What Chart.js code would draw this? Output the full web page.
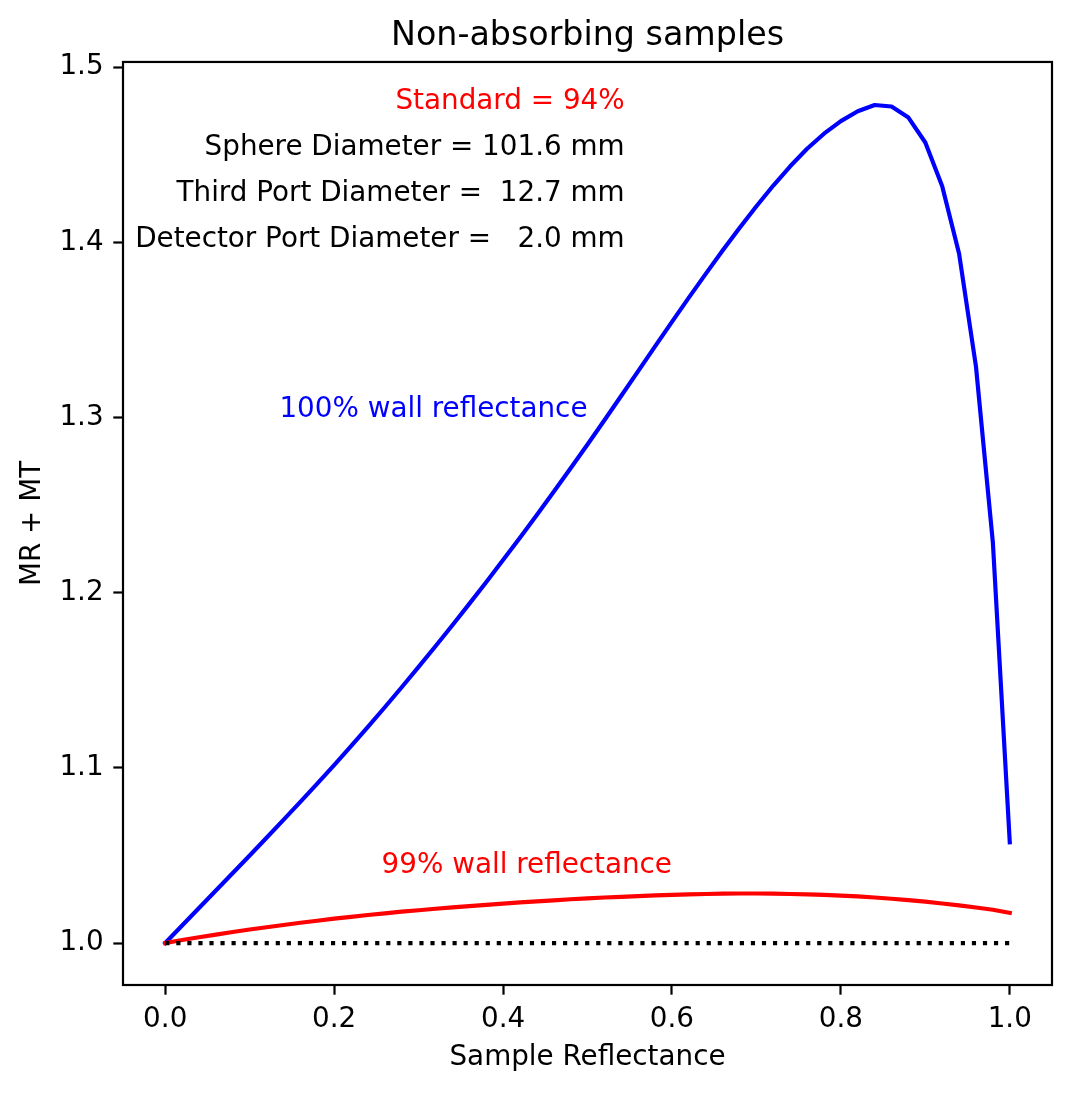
<!DOCTYPE html>
<html>
<head>
<meta charset="utf-8">
<script src="https://cdn.jsdelivr.net/npm/chart.js@4.4.1/dist/chart.umd.min.js"></script>
<style>
  body { margin: 0; background: #fff; }
  canvas { display: block; }
</style>
</head>
<body>
<canvas id="myChart" width="1072" height="1093"></canvas>
<script>
// sample reflectance (x)
const reflectance = [
    0.00, 0.02, 0.04, 0.06, 0.08, 0.10, 0.12, 0.14, 0.16, 0.18,
    0.20, 0.22, 0.24, 0.26, 0.28, 0.30, 0.32, 0.34, 0.36, 0.38,
    0.40, 0.42, 0.44, 0.46, 0.48, 0.50, 0.52, 0.54, 0.56, 0.58,
    0.60, 0.62, 0.64, 0.66, 0.68, 0.70, 0.72, 0.74, 0.76, 0.78,
    0.80, 0.82, 0.84, 0.86, 0.88, 0.90, 0.92, 0.94, 0.96, 0.98, 1.00
];

// MR + MT, 100% wall reflectance
const wall100 = [
    1.0000, 1.0100, 1.0200, 1.0300, 1.0400, 1.0500, 1.0601, 1.0703, 1.0806, 1.0910,
    1.1016, 1.1124, 1.1234, 1.1346, 1.1460, 1.1576, 1.1694, 1.1814, 1.1936, 1.2060,
    1.2186, 1.2314, 1.2444, 1.2576, 1.2710, 1.2846, 1.2984, 1.3124, 1.3265, 1.3406,
    1.3546, 1.3684, 1.3820, 1.3953, 1.4082, 1.4206, 1.4324, 1.4434, 1.4534, 1.4620,
    1.4692, 1.4748, 1.4784, 1.4775, 1.4712, 1.4570, 1.4320, 1.3935, 1.3290, 1.2285, 1.0575
];

// MR + MT, 99% wall reflectance
const wall99 = [
    1.0000, 1.0017, 1.0033, 1.0048, 1.0063, 1.0077, 1.0090, 1.0103, 1.0116, 1.0127,
    1.0139, 1.0149, 1.0160, 1.0169, 1.0179, 1.0187, 1.0196, 1.0204, 1.0211, 1.0218,
    1.0225, 1.0232, 1.0238, 1.0244, 1.0250, 1.0255, 1.0260, 1.0264, 1.0268, 1.0272,
    1.0275, 1.0278, 1.0280, 1.0282, 1.0283, 1.0283, 1.0282, 1.0280, 1.0278, 1.0275,
    1.0271, 1.0266, 1.0260, 1.0253, 1.0245, 1.0236, 1.0226, 1.0215, 1.0203, 1.0190, 1.0172
];

// dotted reference line
const refX = [0.0, 1.0];
const refY = [1.0, 1.0];

// tick labels
const xTicks = [0.0, 0.2, 0.4, 0.6, 0.8, 1.0];
const yTicks = [1.0, 1.1, 1.2, 1.3, 1.4, 1.5];

// text placed in the plot (data coordinates, right aligned, baseline)
const notes = [
    { text: 'Standard = 94%', x: 0.544, y: 1.4759, color: '#ff0000' },
    { text: 'Sphere Diameter = 101.6 mm', x: 0.544, y: 1.4497, color: '#000000' },
    { text: 'Third Port Diameter =  12.7 mm', x: 0.544, y: 1.4234, color: '#000000' },
    { text: 'Detector Port Diameter =   2.0 mm', x: 0.544, y: 1.3972, color: '#000000' },
    { text: '100% wall reflectance', x: 0.5, y: 1.3, color: '#0000ff' },
    { text: '99% wall reflectance', x: 0.6, y: 1.04, color: '#ff0000' }
];

const FONT = '"DejaVu Sans", sans-serif';
const LW = 4.17;     // 1.5pt at 200 dpi
const SPINE = 2.2;

const toPoints = (xs, ys) => xs.map((x, i) => ({ x: x, y: ys[i] }));

// box around the axes and the text labels
const framePlugin = {
    id: 'framePlugin',
    afterDatasetsDraw(chart) {
        const { ctx, chartArea, scales } = chart;
        ctx.save();
        ctx.strokeStyle = '#000';
        ctx.lineWidth = SPINE;
        ctx.strokeRect(chartArea.left, chartArea.top,
            chartArea.right - chartArea.left, chartArea.bottom - chartArea.top);

        ctx.font = '27.8px ' + FONT;
        ctx.textAlign = 'right';
        ctx.textBaseline = 'alphabetic';
        notes.forEach(n => {
            ctx.fillStyle = n.color;
            ctx.fillText(n.text, scales.x.getPixelForValue(n.x), scales.y.getPixelForValue(n.y));
        });
        ctx.restore();
    }
};

const data = {
    datasets: [
        {
            label: 'reference',
            data: toPoints(refX, refY),
            borderColor: '#000000',
            borderWidth: LW,
            borderDash: [4.17, 6.88],
            borderCapStyle: 'butt',
            pointRadius: 0,
            fill: false
        },
        {
            label: '99% wall reflectance',
            data: toPoints(reflectance, wall99),
            borderColor: '#ff0000',
            borderWidth: LW,
            borderCapStyle: 'square',
            borderJoinStyle: 'round',
            pointRadius: 0,
            tension: 0,
            fill: false
        },
        {
            label: '100% wall reflectance',
            data: toPoints(reflectance, wall100),
            borderColor: '#0000ff',
            borderWidth: LW,
            borderCapStyle: 'square',
            borderJoinStyle: 'round',
            pointRadius: 0,
            tension: 0,
            fill: false
        }
    ]
};

const config = {
    type: 'line',
    data: data,
    options: {
        responsive: false,
        animation: false,
        devicePixelRatio: 1,
        layout: { padding: { left: 0, right: 20, top: 0, bottom: 0 } },
        plugins: {
            legend: { display: false },
            tooltip: { enabled: false },
            title: {
                display: true,
                text: 'Non-absorbing samples',
                color: '#000',
                fullSize: false,
                font: { family: FONT, size: 33.3, weight: 'normal', lineHeight: 1.2 },
                padding: { top: 16, bottom: 6 }
            }
        },
        scales: {
            x: {
                type: 'linear',
                min: -0.05,
                max: 1.05,
                afterBuildTicks: axis => { axis.ticks = xTicks.map(v => ({ value: v })); },
                afterFit: axis => { axis.height = 108; },
                border: { display: false },
                grid: {
                    drawOnChartArea: false,
                    drawTicks: true,
                    tickLength: 9.7,
                    tickWidth: SPINE,
                    tickColor: '#000'
                },
                ticks: {
                    color: '#000',
                    padding: 8,
                    maxRotation: 0,
                    font: { family: FONT, size: 27.8, lineHeight: 1.2 },
                    callback: v => v.toFixed(1)
                },
                title: {
                    display: true,
                    text: 'Sample Reflectance',
                    color: '#000',
                    font: { family: FONT, size: 27.8, lineHeight: 1.2 },
                    padding: { top: 0, bottom: 19 }
                }
            },
            y: {
                type: 'linear',
                min: 0.97605,
                max: 1.50295,
                afterBuildTicks: axis => { axis.ticks = yTicks.map(v => ({ value: v })); },
                afterFit: axis => { axis.width = 123; },
                border: { display: false },
                grid: {
                    drawOnChartArea: false,
                    drawTicks: true,
                    tickLength: 9.7,
                    tickWidth: SPINE,
                    tickColor: '#000'
                },
                ticks: {
                    color: '#000',
                    padding: 9.7,
                    font: { family: FONT, size: 27.8, lineHeight: 1.2 },
                    callback: v => v.toFixed(1)
                },
                title: {
                    display: true,
                    text: 'MR + MT',
                    color: '#000',
                    font: { family: FONT, size: 27.8, lineHeight: 1.2 },
                    padding: { top: 16, bottom: 0 }
                }
            }
        }
    },
    plugins: [framePlugin]
};

const myChart = new Chart(document.getElementById('myChart'), config);
</script>
</body>
</html>
